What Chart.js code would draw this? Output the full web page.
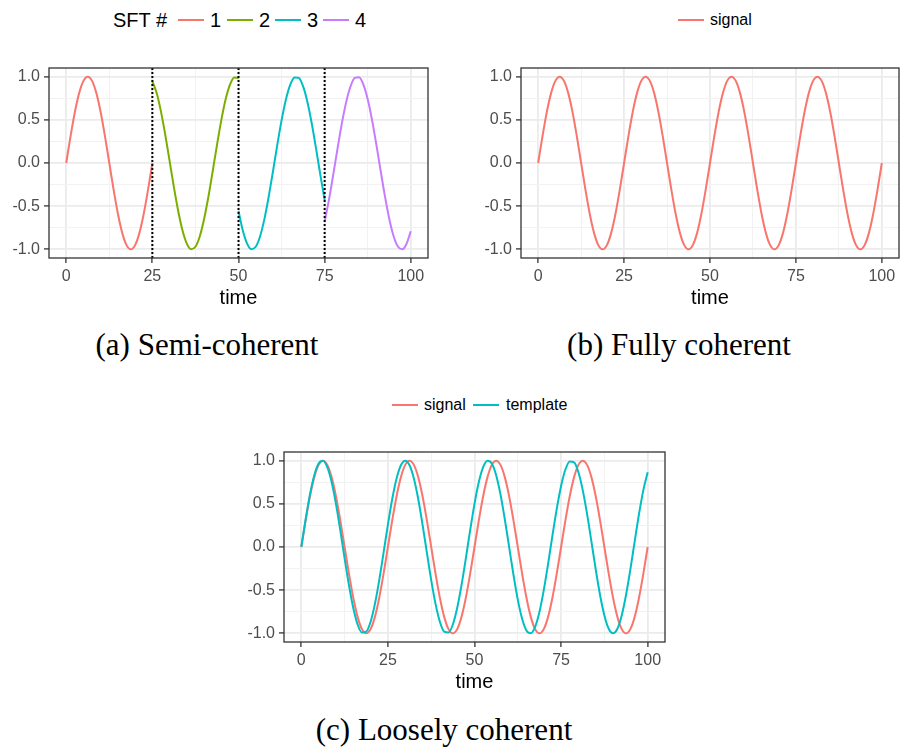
<!DOCTYPE html>
<html>
<head>
<meta charset="utf-8">
<script src="https://cdn.jsdelivr.net/npm/chart.js@4.4.1/dist/chart.umd.min.js"></script>
<style>
  html, body { margin: 0; padding: 0; background: #fff; }
  #page { position: relative; width: 900px; height: 748px; overflow: hidden; font-family: "Liberation Sans", Arial, sans-serif; }
  canvas { position: absolute; }
  .key { position: absolute; height: 24px; line-height: 24px; color: #000; white-space: nowrap; }
  .swatch { position: absolute; height: 2px; }
  .caption { position: absolute; font-family: "Liberation Serif", serif; font-size: 31px; line-height: 40px; color: #000; white-space: nowrap; transform: translateX(-50%); }
</style>
</head>
<body>
<div id="page">
  <canvas id="chartA" width="448" height="262" style="left:0px;top:48px"></canvas>
  <canvas id="chartB" width="447" height="262" style="left:472px;top:48px"></canvas>
  <canvas id="chartC" width="450" height="262" style="left:235px;top:432px"></canvas>
  <div class="caption" style="left:207px;top:325px">(a) Semi-coherent</div>
  <div class="caption" style="left:679px;top:325px">(b) Fully coherent</div>
  <div class="caption" style="left:444px;top:710px">(c) Loosely coherent</div>
</div>
<script>
// sample times shared by every curve
const time = [0, 1.25, 2.5, 3.75, 5, 6.25, 7.5, 8.75, 10, 11.25, 12.5, 13.75, 15, 16.25, 17.5, 18.75, 20,
  21.25, 22.5, 23.75, 25, 26.25, 27.5, 28.75, 30, 31.25, 32.5, 33.75, 35, 36.25, 37.5, 38.75, 40,
  41.25, 42.5, 43.75, 45, 46.25, 47.5, 48.75, 50, 51.25, 52.5, 53.75, 55, 56.25, 57.5, 58.75, 60,
  61.25, 62.5, 63.75, 65, 66.25, 67.5, 68.75, 70, 71.25, 72.5, 73.75, 75, 76.25, 77.5, 78.75, 80,
  81.25, 82.5, 83.75, 85, 86.25, 87.5, 88.75, 90, 91.25, 92.5, 93.75, 95, 96.25, 97.5, 98.75, 100];

// (a) one segment per SFT
const sft1 = [0, 0.309, 0.588, 0.809, 0.951, 1, 0.951, 0.809, 0.588, 0.309, 0,
  -0.309, -0.588, -0.809, -0.951, -1, -0.951, -0.809, -0.588, -0.309, 0];
const sft2 = [0.949, 0.810, 0.595, 0.325, 0.024, -0.279, -0.556, -0.782, -0.933, -0.998, -0.970,
  -0.851, -0.652, -0.394, -0.098, 0.208, 0.494, 0.734, 0.904, 0.991, 0.985];
const sft3 = [-0.556, -0.781, -0.933, -0.998, -0.970, -0.851, -0.653, -0.394, -0.098, 0.208, 0.494,
  0.733, 0.904, 0.991, 0.985, 0.887, 0.707, 0.460, 0.170, -0.136, -0.429];
const sft4 = [-0.679, -0.427, -0.134, 0.170, 0.459, 0.705, 0.886, 0.985, 0.992, 0.907, 0.737,
  0.500, 0.215, -0.089, -0.384, -0.645, -0.845, -0.967, -0.999, -0.938, -0.790];
const sftBoundaries = [25, 50, 75];

// (b) and (c)
const signal = [
  0, 0.309, 0.588, 0.809, 0.951, 1, 0.951, 0.809, 0.588, 0.309, 0, -0.309, -0.588, -0.809, -0.951, -1, -0.951, -0.809, -0.588, -0.309,
  0, 0.309, 0.588, 0.809, 0.951, 1, 0.951, 0.809, 0.588, 0.309, 0, -0.309, -0.588, -0.809, -0.951, -1, -0.951, -0.809, -0.588, -0.309,
  0, 0.309, 0.588, 0.809, 0.951, 1, 0.951, 0.809, 0.588, 0.309, 0, -0.309, -0.588, -0.809, -0.951, -1, -0.951, -0.809, -0.588, -0.309,
  0, 0.309, 0.588, 0.809, 0.951, 1, 0.951, 0.809, 0.588, 0.309, 0, -0.309, -0.588, -0.809, -0.951, -1, -0.951, -0.809, -0.588, -0.309,
  0];
const template = [
  0, 0.321, 0.609, 0.831, 0.966, 0.998, 0.924, 0.752, 0.5, 0.195, -0.131, -0.442, -0.707, -0.897, -0.991, -0.981,
  -0.866, -0.659, -0.383, -0.065, 0.259, 0.556, 0.793, 0.947, 1, 0.947, 0.793, 0.556, 0.259, -0.065, -0.383, -0.659,
  -0.866, -0.981, -0.991, -0.897, -0.707, -0.442, -0.131, 0.195, 0.5, 0.752, 0.924, 0.998, 0.966, 0.831, 0.609, 0.321,
  0, -0.321, -0.609, -0.831, -0.966, -0.998, -0.924, -0.752, -0.5, -0.195, 0.131, 0.442, 0.707, 0.897, 0.991, 0.981,
  0.866, 0.659, 0.383, 0.065, -0.259, -0.556, -0.793, -0.947, -1, -0.947, -0.793, -0.556, -0.259, 0.065, 0.383, 0.659,
  0.866];

const xMajor = [0, 25, 50, 75, 100];
const xMinor = [12.5, 37.5, 62.5, 87.5];
const xTickLabels = ['0', '25', '50', '75', '100'];
const yMajor = [-1, -0.5, 0, 0.5, 1];
const yMinor = [-0.75, -0.25, 0.25, 0.75];
const yTickLabels = ['-1.0', '-0.5', '0.0', '0.5', '1.0'];

const sftLabels = ['1', '2', '3', '4'];
const hue = { red: '#F8766D', green: '#7CAE00', teal: '#00BFC4', purple: '#C77CFF' };

function points(xs, ys) {
  return ys.map((y, i) => ({ x: xs[i], y: y }));
}

function curve(data, color, order) {
  return {
    data: data,
    borderColor: color,
    borderWidth: 2,
    pointRadius: 0,
    fill: false,
    cubicInterpolationMode: 'monotone',
    order: order
  };
}

const panelBorder = {
  id: 'panelBorder',
  afterDatasetsDraw(chart) {
    const { ctx, chartArea: a } = chart;
    ctx.save();
    ctx.strokeStyle = '#333333';
    ctx.lineWidth = 1.3;
    ctx.strokeRect(a.left, a.top, a.right - a.left, a.bottom - a.top);
    ctx.restore();
  }
};

function axis(major, minor, labels, extra) {
  const tickFont = { family: 'Liberation Sans', size: 16 };
  return Object.assign({
    type: 'linear',
    afterBuildTicks: function (scale) {
      scale.ticks = major.concat(minor).sort((a, b) => a - b).map(v => ({ value: v }));
    },
    border: { display: false },
    grid: {
      color: ctx => major.includes(ctx.tick.value) ? '#EBEBEB' : '#F2F2F2',
      lineWidth: ctx => major.includes(ctx.tick.value) ? 1.8 : 1,
      tickColor: ctx => major.includes(ctx.tick.value) ? '#333333' : 'rgba(0,0,0,0)',
      tickWidth: 1.3,
      tickLength: 5,
      drawTicks: true
    },
    ticks: {
      autoSkip: false,
      maxRotation: 0,
      padding: 4,
      color: '#4D4D4D',
      font: tickFont,
      callback: function (value) {
        const i = major.indexOf(value);
        return i >= 0 ? labels[i] : '';
      }
    }
  }, extra);
}

function makePanel(id, datasets) {
  return new Chart(document.getElementById(id), {
    type: 'line',
    data: { datasets: datasets },
    options: {
      responsive: false,
      animation: false,
      layout: { padding: { top: 20, right: 20, bottom: 0, left: 0 } },
      plugins: { legend: { display: false }, tooltip: { enabled: false } },
      scales: {
        x: axis(xMajor, xMinor, xTickLabels, {
          min: -5, max: 105,
          afterFit: s => { s.height = 52; },
          title: { display: true, text: 'time', color: '#000', padding: 0,
                   font: { family: 'Liberation Sans', size: 20 } }
        }),
        y: axis(yMajor, yMinor, yTickLabels, {
          min: -1.1, max: 1.1,
          afterFit: s => { s.width = 49; }
        })
      }
    },
    plugins: [panelBorder]
  });
}

// (a) semi-coherent
const dotted = sftBoundaries.map(b => ({
  data: [{ x: b, y: -1.1 }, { x: b, y: 1.1 }],
  borderColor: '#000',
  borderWidth: 2,
  borderDash: [2, 2],
  pointRadius: 0,
  fill: false,
  order: 0
}));
makePanel('chartA', [
  curve(points(time.slice(0, 21), sft1), hue.red, 1),
  curve(points(time.slice(20, 41), sft2), hue.green, 1),
  curve(points(time.slice(40, 61), sft3), hue.teal, 1),
  curve(points(time.slice(60, 81), sft4), hue.purple, 1)
].concat(dotted));

// (b) fully coherent
makePanel('chartB', [curve(points(time, signal), hue.red, 1)]);

// (c) loosely coherent
makePanel('chartC', [
  curve(points(time, signal), hue.red, 2),
  curve(points(time, template), hue.teal, 1)
]);

// legends
const page = document.getElementById('page');
function keyLine(x, y, color) {
  const d = document.createElement('div');
  d.className = 'swatch';
  d.style.left = x + 'px';
  d.style.top = (y - 1) + 'px';
  d.style.width = '26px';
  d.style.background = color;
  page.appendChild(d);
}
function keyText(x, y, text, size) {
  const d = document.createElement('div');
  d.className = 'key';
  d.style.left = x + 'px';
  d.style.top = (y - 12) + 'px';
  d.style.fontSize = size + 'px';
  d.textContent = text;
  page.appendChild(d);
}

keyText(113, 20, 'SFT #', 20);
const sftColors = [hue.red, hue.green, hue.teal, hue.purple];
const sftKeyX = [178, 227, 275, 323];
sftLabels.forEach((lab, i) => {
  keyLine(sftKeyX[i], 20, sftColors[i]);
  keyText(sftKeyX[i] + 32, 20, lab, 20);
});

keyLine(678, 20, hue.red);
keyText(710, 20, 'signal', 16);

keyLine(392, 405, hue.red);
keyText(424, 405, 'signal', 16);
keyLine(473, 405, hue.teal);
keyText(506, 405, 'template', 16);
</script>
</body>
</html>
